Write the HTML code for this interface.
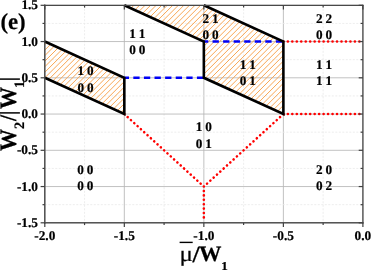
<!DOCTYPE html>
<html><head><meta charset="utf-8"><title>phase diagram</title>
<style>
html,body{margin:0;padding:0;background:#fff;}
body{width:374px;height:272px;overflow:hidden;}
svg{display:block;will-change:transform;}
text{font-family:"Liberation Serif",serif;font-weight:bold;fill:#000;stroke:#000;stroke-width:0.2px;text-rendering:geometricPrecision;}
</style></head><body>
<svg width="374" height="272" viewBox="0 0 374 272">
<defs>

</defs>
<rect x="0" y="0" width="374" height="272" fill="#fff"/>
<g fill="#ffffff"><polygon points="44.80,41.55 124.32,77.80 124.32,114.05 44.80,77.80"/><polygon points="124.32,5.30 203.85,5.30 283.38,41.55 283.38,114.05 203.85,77.80 203.85,41.55"/></g>
<g id="grid"><line x1="44.80" y1="5.3" x2="44.80" y2="222.8" stroke="#b6b6b6" stroke-width="0.85"/>
<line x1="84.56" y1="5.3" x2="84.56" y2="222.8" stroke="#e8e8e8" stroke-width="0.8" stroke-dasharray="2 1.5"/>
<line x1="124.32" y1="5.3" x2="124.32" y2="222.8" stroke="#b6b6b6" stroke-width="0.85"/>
<line x1="164.09" y1="5.3" x2="164.09" y2="222.8" stroke="#e8e8e8" stroke-width="0.8" stroke-dasharray="2 1.5"/>
<line x1="203.85" y1="5.3" x2="203.85" y2="222.8" stroke="#b6b6b6" stroke-width="0.85"/>
<line x1="243.61" y1="5.3" x2="243.61" y2="222.8" stroke="#e8e8e8" stroke-width="0.8" stroke-dasharray="2 1.5"/>
<line x1="283.38" y1="5.3" x2="283.38" y2="222.8" stroke="#b6b6b6" stroke-width="0.85"/>
<line x1="323.14" y1="5.3" x2="323.14" y2="222.8" stroke="#e8e8e8" stroke-width="0.8" stroke-dasharray="2 1.5"/>
<line x1="362.90" y1="5.3" x2="362.90" y2="222.8" stroke="#b6b6b6" stroke-width="0.85"/>
<line x1="44.8" y1="222.80" x2="362.9" y2="222.80" stroke="#b6b6b6" stroke-width="0.85"/>
<line x1="44.8" y1="204.68" x2="362.9" y2="204.68" stroke="#e8e8e8" stroke-width="0.8" stroke-dasharray="2 1.5"/>
<line x1="44.8" y1="186.55" x2="362.9" y2="186.55" stroke="#b6b6b6" stroke-width="0.85"/>
<line x1="44.8" y1="168.43" x2="362.9" y2="168.43" stroke="#e8e8e8" stroke-width="0.8" stroke-dasharray="2 1.5"/>
<line x1="44.8" y1="150.30" x2="362.9" y2="150.30" stroke="#b6b6b6" stroke-width="0.85"/>
<line x1="44.8" y1="132.18" x2="362.9" y2="132.18" stroke="#e8e8e8" stroke-width="0.8" stroke-dasharray="2 1.5"/>
<line x1="44.8" y1="114.05" x2="362.9" y2="114.05" stroke="#b6b6b6" stroke-width="0.85"/>
<line x1="44.8" y1="95.92" x2="362.9" y2="95.92" stroke="#e8e8e8" stroke-width="0.8" stroke-dasharray="2 1.5"/>
<line x1="44.8" y1="77.80" x2="362.9" y2="77.80" stroke="#b6b6b6" stroke-width="0.85"/>
<line x1="44.8" y1="59.67" x2="362.9" y2="59.67" stroke="#e8e8e8" stroke-width="0.8" stroke-dasharray="2 1.5"/>
<line x1="44.8" y1="41.55" x2="362.9" y2="41.55" stroke="#b6b6b6" stroke-width="0.85"/>
<line x1="44.8" y1="23.43" x2="362.9" y2="23.43" stroke="#e8e8e8" stroke-width="0.8" stroke-dasharray="2 1.5"/>
<line x1="44.8" y1="5.30" x2="362.9" y2="5.30" stroke="#b6b6b6" stroke-width="0.85"/></g>
<clipPath id="hc"><polygon points="44.80,41.55 124.32,77.80 124.32,114.05 44.80,77.80"/><polygon points="124.32,5.30 203.85,5.30 283.38,41.55 283.38,114.05 203.85,77.80 203.85,41.55"/></clipPath>
<g clip-path="url(#hc)" stroke="#f8a654" stroke-width="1.0"><line x1="45.00" y1="0" x2="-85.00" y2="130"/><line x1="50.54" y1="0" x2="-79.46" y2="130"/><line x1="56.09" y1="0" x2="-73.91" y2="130"/><line x1="61.63" y1="0" x2="-68.37" y2="130"/><line x1="67.18" y1="0" x2="-62.82" y2="130"/><line x1="72.72" y1="0" x2="-57.28" y2="130"/><line x1="78.27" y1="0" x2="-51.73" y2="130"/><line x1="83.81" y1="0" x2="-46.19" y2="130"/><line x1="89.35" y1="0" x2="-40.65" y2="130"/><line x1="94.90" y1="0" x2="-35.10" y2="130"/><line x1="100.44" y1="0" x2="-29.56" y2="130"/><line x1="105.99" y1="0" x2="-24.01" y2="130"/><line x1="111.53" y1="0" x2="-18.47" y2="130"/><line x1="117.08" y1="0" x2="-12.92" y2="130"/><line x1="122.62" y1="0" x2="-7.38" y2="130"/><line x1="128.17" y1="0" x2="-1.83" y2="130"/><line x1="133.72" y1="0" x2="3.72" y2="130"/><line x1="139.26" y1="0" x2="9.26" y2="130"/><line x1="144.81" y1="0" x2="14.81" y2="130"/><line x1="150.35" y1="0" x2="20.35" y2="130"/><line x1="155.89" y1="0" x2="25.89" y2="130"/><line x1="161.44" y1="0" x2="31.44" y2="130"/><line x1="166.99" y1="0" x2="36.98" y2="130"/><line x1="172.53" y1="0" x2="42.53" y2="130"/><line x1="178.07" y1="0" x2="48.08" y2="130"/><line x1="183.62" y1="0" x2="53.62" y2="130"/><line x1="189.17" y1="0" x2="59.17" y2="130"/><line x1="194.71" y1="0" x2="64.71" y2="130"/><line x1="200.25" y1="0" x2="70.25" y2="130"/><line x1="205.80" y1="0" x2="75.80" y2="130"/><line x1="211.34" y1="0" x2="81.34" y2="130"/><line x1="216.89" y1="0" x2="86.89" y2="130"/><line x1="222.44" y1="0" x2="92.44" y2="130"/><line x1="227.98" y1="0" x2="97.98" y2="130"/><line x1="233.53" y1="0" x2="103.53" y2="130"/><line x1="239.07" y1="0" x2="109.07" y2="130"/><line x1="244.62" y1="0" x2="114.62" y2="130"/><line x1="250.16" y1="0" x2="120.16" y2="130"/><line x1="255.71" y1="0" x2="125.70" y2="130"/><line x1="261.25" y1="0" x2="131.25" y2="130"/><line x1="266.80" y1="0" x2="136.79" y2="130"/><line x1="272.34" y1="0" x2="142.34" y2="130"/><line x1="277.88" y1="0" x2="147.88" y2="130"/><line x1="283.43" y1="0" x2="153.43" y2="130"/><line x1="288.98" y1="0" x2="158.97" y2="130"/><line x1="294.52" y1="0" x2="164.52" y2="130"/><line x1="300.06" y1="0" x2="170.06" y2="130"/><line x1="305.61" y1="0" x2="175.61" y2="130"/><line x1="311.15" y1="0" x2="181.16" y2="130"/><line x1="316.70" y1="0" x2="186.70" y2="130"/><line x1="322.25" y1="0" x2="192.25" y2="130"/><line x1="327.79" y1="0" x2="197.79" y2="130"/><line x1="333.33" y1="0" x2="203.33" y2="130"/><line x1="338.88" y1="0" x2="208.88" y2="130"/><line x1="344.43" y1="0" x2="214.43" y2="130"/><line x1="349.97" y1="0" x2="219.97" y2="130"/><line x1="355.51" y1="0" x2="225.51" y2="130"/><line x1="361.06" y1="0" x2="231.06" y2="130"/><line x1="366.61" y1="0" x2="236.61" y2="130"/><line x1="372.15" y1="0" x2="242.15" y2="130"/><line x1="377.69" y1="0" x2="247.69" y2="130"/><line x1="383.24" y1="0" x2="253.24" y2="130"/><line x1="388.78" y1="0" x2="258.78" y2="130"/><line x1="394.33" y1="0" x2="264.33" y2="130"/><line x1="399.88" y1="0" x2="269.88" y2="130"/><line x1="405.42" y1="0" x2="275.42" y2="130"/><line x1="410.97" y1="0" x2="280.97" y2="130"/><line x1="416.51" y1="0" x2="286.51" y2="130"/></g>
<g stroke="#0000f5" stroke-width="2.4" fill="none"><line x1="124.32" y1="77.80" x2="203.85" y2="77.80" stroke-dasharray="6.3 4.3" stroke-dashoffset="1.6"/><line x1="203.85" y1="41.55" x2="283.38" y2="41.55" stroke-dasharray="6.3 4.25" stroke-dashoffset="1.85"/></g>
<g stroke="#ff0000" stroke-width="2.6" stroke-dasharray="0.01 4.46" stroke-linecap="round" fill="none"><line x1="283.38" y1="41.55" x2="362.40" y2="41.55"/><line x1="283.38" y1="114.05" x2="362.40" y2="114.05"/><line x1="124.32" y1="114.05" x2="203.85" y2="186.55" stroke-dasharray="0.01 4.48"/><line x1="283.38" y1="114.05" x2="203.85" y2="186.55" stroke-dasharray="0.01 4.48"/><line x1="203.85" y1="186.55" x2="203.85" y2="221.80" stroke-dasharray="0.01 4.4"/></g>
<g stroke="#000" stroke-width="2.6" fill="none" stroke-linejoin="miter" stroke-linecap="butt"><polyline points="44.80,41.55 124.32,77.80 124.32,114.05 44.80,77.80"/><polyline points="124.32,5.30 203.85,41.55 203.85,77.80 283.38,114.05 283.38,41.55 203.85,5.30"/></g>
<g fill="none" stroke-linecap="square"><line x1="44.8" y1="5.3" x2="362.9" y2="5.3" stroke="#484848" stroke-width="1.2"/><line x1="362.9" y1="5.3" x2="362.9" y2="222.8" stroke="#484848" stroke-width="1.25"/><line x1="44.8" y1="5.3" x2="44.8" y2="222.8" stroke="#484848" stroke-width="1.4"/><line x1="44.8" y1="222.8" x2="362.9" y2="222.8" stroke="#555555" stroke-width="1.55"/></g>
<g stroke="#404040" stroke-width="1.2"><line x1="44.80" y1="222.8" x2="44.80" y2="227.0"/><line x1="44.80" y1="5.3" x2="44.80" y2="9.5"/><line x1="84.56" y1="222.8" x2="84.56" y2="225.10000000000002"/><line x1="84.56" y1="5.3" x2="84.56" y2="7.6"/><line x1="124.32" y1="222.8" x2="124.32" y2="227.0"/><line x1="124.32" y1="5.3" x2="124.32" y2="9.5"/><line x1="164.09" y1="222.8" x2="164.09" y2="225.10000000000002"/><line x1="164.09" y1="5.3" x2="164.09" y2="7.6"/><line x1="203.85" y1="222.8" x2="203.85" y2="227.0"/><line x1="203.85" y1="5.3" x2="203.85" y2="9.5"/><line x1="243.61" y1="222.8" x2="243.61" y2="225.10000000000002"/><line x1="243.61" y1="5.3" x2="243.61" y2="7.6"/><line x1="283.38" y1="222.8" x2="283.38" y2="227.0"/><line x1="283.38" y1="5.3" x2="283.38" y2="9.5"/><line x1="323.14" y1="222.8" x2="323.14" y2="225.10000000000002"/><line x1="323.14" y1="5.3" x2="323.14" y2="7.6"/><line x1="362.90" y1="222.8" x2="362.90" y2="227.0"/><line x1="362.90" y1="5.3" x2="362.90" y2="9.5"/><line x1="44.8" y1="222.80" x2="40.599999999999994" y2="222.80"/><line x1="362.9" y1="222.80" x2="358.7" y2="222.80"/><line x1="44.8" y1="204.68" x2="42.5" y2="204.68"/><line x1="362.9" y1="204.68" x2="360.59999999999997" y2="204.68"/><line x1="44.8" y1="186.55" x2="40.599999999999994" y2="186.55"/><line x1="362.9" y1="186.55" x2="358.7" y2="186.55"/><line x1="44.8" y1="168.43" x2="42.5" y2="168.43"/><line x1="362.9" y1="168.43" x2="360.59999999999997" y2="168.43"/><line x1="44.8" y1="150.30" x2="40.599999999999994" y2="150.30"/><line x1="362.9" y1="150.30" x2="358.7" y2="150.30"/><line x1="44.8" y1="132.18" x2="42.5" y2="132.18"/><line x1="362.9" y1="132.18" x2="360.59999999999997" y2="132.18"/><line x1="44.8" y1="114.05" x2="40.599999999999994" y2="114.05"/><line x1="362.9" y1="114.05" x2="358.7" y2="114.05"/><line x1="44.8" y1="95.92" x2="42.5" y2="95.92"/><line x1="362.9" y1="95.92" x2="360.59999999999997" y2="95.92"/><line x1="44.8" y1="77.80" x2="40.599999999999994" y2="77.80"/><line x1="362.9" y1="77.80" x2="358.7" y2="77.80"/><line x1="44.8" y1="59.67" x2="42.5" y2="59.67"/><line x1="362.9" y1="59.67" x2="360.59999999999997" y2="59.67"/><line x1="44.8" y1="41.55" x2="40.599999999999994" y2="41.55"/><line x1="362.9" y1="41.55" x2="358.7" y2="41.55"/><line x1="44.8" y1="23.43" x2="42.5" y2="23.43"/><line x1="362.9" y1="23.43" x2="360.59999999999997" y2="23.43"/><line x1="44.8" y1="5.30" x2="40.599999999999994" y2="5.30"/><line x1="362.9" y1="5.30" x2="358.7" y2="5.30"/></g>
<g><text x="38.0" y="9.40" font-size="13.3" text-anchor="end">1.5</text><text x="38.0" y="45.65" font-size="13.3" text-anchor="end">1.0</text><text x="38.0" y="81.90" font-size="13.3" text-anchor="end">0.5</text><text x="38.0" y="118.15" font-size="13.3" text-anchor="end">0.0</text><text x="38.0" y="154.40" font-size="13.3" text-anchor="end">-0.5</text><text x="38.0" y="190.65" font-size="13.3" text-anchor="end">-1.0</text><text x="38.0" y="226.90" font-size="13.3" text-anchor="end">-1.5</text><text x="44.80" y="240.2" font-size="13.3" text-anchor="middle">-2.0</text><text x="124.32" y="240.2" font-size="13.3" text-anchor="middle">-1.5</text><text x="203.85" y="240.2" font-size="13.3" text-anchor="middle">-1.0</text><text x="283.38" y="240.2" font-size="13.3" text-anchor="middle">-0.5</text><text x="362.90" y="240.2" font-size="13.3" text-anchor="middle">0.0</text></g>
<g><text x="85.5" y="75" font-size="13.2" word-spacing="-0.4" text-anchor="middle" xml:space="preserve">1 0</text><text x="85.5" y="91.8" font-size="13.2" word-spacing="-0.4" text-anchor="middle" xml:space="preserve">0 0</text><text x="137.2" y="38" font-size="13.2" word-spacing="-0.4" text-anchor="middle" xml:space="preserve">1 1</text><text x="137.2" y="54.2" font-size="13.2" word-spacing="-0.4" text-anchor="middle" xml:space="preserve">0 0</text><text x="210.5" y="22.6" font-size="13.2" word-spacing="-0.4" text-anchor="middle" xml:space="preserve">2 1</text><text x="210.5" y="38.900000000000006" font-size="13.2" word-spacing="-0.4" text-anchor="middle" xml:space="preserve">0 0</text><text x="247.9" y="68.7" font-size="13.2" word-spacing="-0.4" text-anchor="middle" xml:space="preserve">1 1</text><text x="247.9" y="85.0" font-size="13.2" word-spacing="-0.4" text-anchor="middle" xml:space="preserve">0 1</text><text x="324" y="23" font-size="13.2" word-spacing="-0.4" text-anchor="middle" xml:space="preserve">2 2</text><text x="324" y="39.2" font-size="13.2" word-spacing="-0.4" text-anchor="middle" xml:space="preserve">0 0</text><text x="324" y="68.7" font-size="13.2" word-spacing="-0.4" text-anchor="middle" xml:space="preserve">1 1</text><text x="324" y="85.0" font-size="13.2" word-spacing="-0.4" text-anchor="middle" xml:space="preserve">1 1</text><text x="203.8" y="131" font-size="13.2" word-spacing="-0.4" text-anchor="middle" xml:space="preserve">1 0</text><text x="203.8" y="147.7" font-size="13.2" word-spacing="-0.4" text-anchor="middle" xml:space="preserve">0 1</text><text x="85.2" y="173.5" font-size="13.2" word-spacing="-0.4" text-anchor="middle" xml:space="preserve">0 0</text><text x="85.2" y="190.0" font-size="13.2" word-spacing="-0.4" text-anchor="middle" xml:space="preserve">0 0</text><text x="324" y="173.5" font-size="13.2" word-spacing="-0.4" text-anchor="middle" xml:space="preserve">2 0</text><text x="324" y="189.8" font-size="13.2" word-spacing="-0.4" text-anchor="middle" xml:space="preserve">0 2</text></g>
<text x="0.4" y="28.8" font-size="22.8">(e)</text>
<g><text transform="translate(179.4,261.3) scale(1.14,1)" x="0" y="0" font-size="22" style="font-weight:normal">μ</text><text transform="translate(192.4,261.6) scale(1.12,1)" x="0" y="0" font-size="23" style="font-weight:bold">/</text><text transform="translate(198.9,261.2) scale(1.02,1)" x="0" y="0" font-size="22" style="font-weight:bold">W</text><text transform="translate(221.15,269.6) scale(1.1,1)" x="0" y="0" font-size="12" style="font-weight:bold">1</text></g>
<line x1="179.6" y1="242.4" x2="192.7" y2="242.4" stroke="#000" stroke-width="1.4"/>
<g><text transform="translate(15.7,151.0) rotate(-90) scale(1,1.08)" x="0" y="0" font-size="22">W</text><text transform="translate(23.5,129.1) rotate(-90) scale(1,1.0)" x="0" y="0" font-size="14.3">2</text><text transform="translate(15.7,121.1) rotate(-90) scale(1,1.08)" x="0" y="0" font-size="22">/</text><text transform="translate(15.7,109.1) rotate(-90) scale(1,1.08)" x="0" y="0" font-size="22">W</text><text transform="translate(23.5,87.95) rotate(-90) scale(1,1.0)" x="0" y="0" font-size="14.3">1</text></g>
<g stroke="#000" stroke-width="1.5"><line x1="0" y1="79.1" x2="19.9" y2="79.1"/><line x1="0" y1="112.9" x2="19.9" y2="112.9"/></g>
</svg>
</body></html>
